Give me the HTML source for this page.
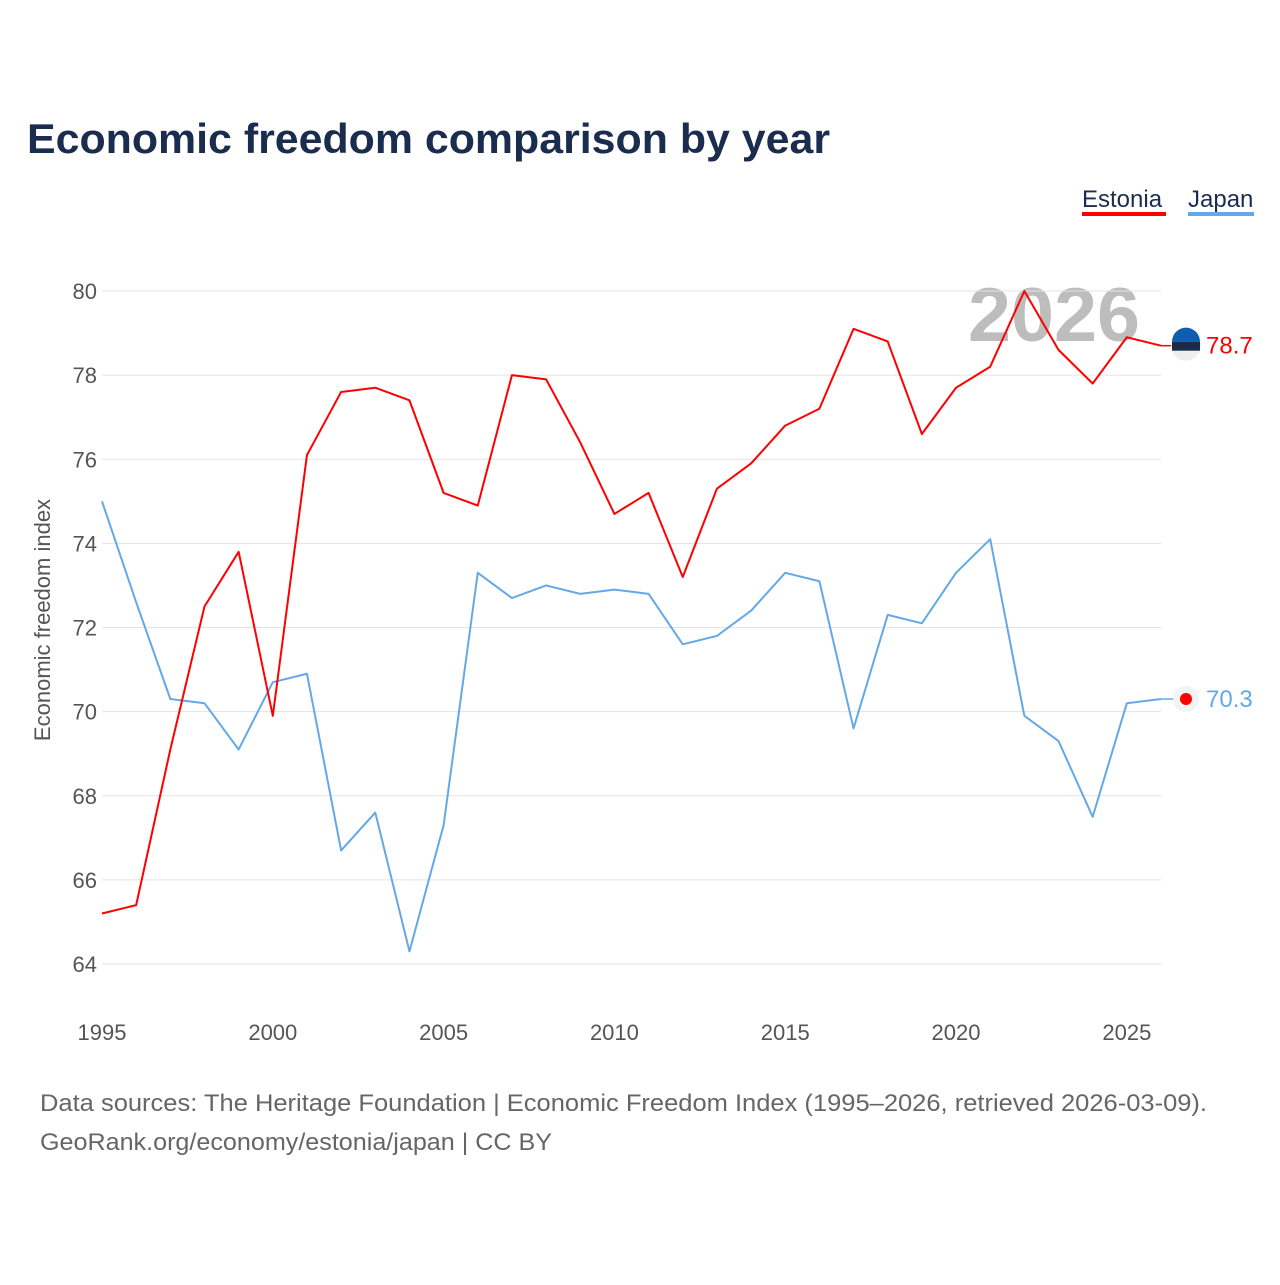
<!DOCTYPE html>
<html><head><meta charset="utf-8"><style>
body{margin:0;background:#fff;}
svg text{font-family:"Liberation Sans",sans-serif;}
</style></head><body>
<svg id="chart" width="1280" height="1280" viewBox="0 0 1280 1280">
<text x="27" y="153" font-size="42" font-weight="bold" fill="#1b2d4f" textLength="803" lengthAdjust="spacingAndGlyphs">Economic freedom comparison by year</text>
<g>
<text x="1082" y="207" font-size="24" fill="#1b2d4f">Estonia</text>
<rect x="1082" y="212" width="84" height="4" fill="#ff0000"/>
<text x="1188" y="207" font-size="24" fill="#1b2d4f">Japan</text>
<rect x="1188" y="212" width="66" height="4" fill="#64a8ea"/>
</g>
<text x="968" y="341" font-size="76" font-weight="bold" fill="#bdbdbd" textLength="172" lengthAdjust="spacingAndGlyphs">2026</text>
<g id="grid"></g>
<g id="xaxis"></g>
<text transform="translate(50,620) rotate(-90)" font-size="22" fill="#555" text-anchor="middle">Economic freedom index</text>
<g id="series"></g>
<g id="markers"></g>
<text x="40" y="1111" font-size="24" fill="#666" textLength="1167" lengthAdjust="spacingAndGlyphs">Data sources: The Heritage Foundation | Economic Freedom Index (1995–2026, retrieved 2026-03-09).</text>
<text x="40" y="1150" font-size="24" fill="#666" textLength="512" lengthAdjust="spacingAndGlyphs">GeoRank.org/economy/estonia/japan | CC BY</text>
</svg>
<script>
const years=[1995,1996,1997,1998,1999,2000,2001,2002,2003,2004,2005,2006,2007,2008,2009,2010,2011,2012,2013,2014,2015,2016,2017,2018,2019,2020,2021,2022,2023,2024,2025,2026];
const estonia=[65.2,65.4,69.1,72.5,73.8,69.9,76.1,77.6,77.7,77.4,75.2,74.9,78.0,77.9,76.4,74.7,75.2,73.2,75.3,75.9,76.8,77.2,79.1,78.8,76.6,77.7,78.2,80.0,78.6,77.8,78.9,78.7];
const japan=[75.0,72.6,70.3,70.2,69.1,70.7,70.9,66.7,67.6,64.3,67.3,73.3,72.7,73.0,72.8,72.9,72.8,71.6,71.8,72.4,73.3,73.1,69.6,72.3,72.1,73.3,74.1,69.9,69.3,67.5,70.2,70.3];
const yTicks=[64,66,68,70,72,74,76,78,80];
const xTicks=[1995,2000,2005,2010,2015,2020,2025];
const NS="http://www.w3.org/2000/svg";
const X=y=>102+(y-1995)*(1161-102)/31;
const Y=v=>964-(v-64)*(964-291)/16;
function mk(tag,attrs,parent){const e=document.createElementNS(NS,tag);for(const k in attrs)e.setAttribute(k,attrs[k]);parent.appendChild(e);return e;}
const grid=document.getElementById('grid');
yTicks.forEach(t=>{
 const l=mk('line',{x1:102,x2:1161,y1:Y(t),y2:Y(t),stroke:'#e3e3e3','stroke-width':1},grid);
 
 
 const tx=mk('text',{x:97,y:Y(t)+8,'font-size':22,fill:'#555','text-anchor':'end'},grid);
 tx.textContent=t;
 
 
});
const xa=document.getElementById('xaxis');
xTicks.forEach(t=>{
 const tx=mk('text',{x:X(t),y:1040,'font-size':22,fill:'#555','text-anchor':'middle'},xa);
 tx.textContent=t;
 
 
});
const s=document.getElementById('series');
function line(vals,color,name){
 const p=mk('polyline',{points:vals.map((v,i)=>X(years[i])+','+Y(v)).join(' '),fill:'none',stroke:color,'stroke-width':2,'stroke-linejoin':'round'},s);
 
 
}
line(japan,'#64a8ea','japan-line');
line(estonia,'#ff0000','estonia-line');
const m=document.getElementById('markers');
const eL=estonia[estonia.length-1], jL=japan[japan.length-1];
let c;
mk('line',{x1:1161,x2:1176,y1:Y(eL),y2:Y(eL),stroke:'#ff0000','stroke-width':1.5},m);
mk('line',{x1:1161,x2:1176,y1:Y(jL),y2:Y(jL),stroke:'#64a8ea','stroke-width':1.5},m);
c=mk('circle',{cx:1186,cy:Y(eL),r:15,fill:'#eee'},m);


mk('path',{d:`M1172 ${Y(eL)-4} A14 14 0 0 1 1200 ${Y(eL)-4} Z`,fill:'#0d5eaf'},m);
mk('rect',{x:1172,y:Y(eL)-4,width:28,height:9,fill:'#1a2a48'},m);
c=mk('circle',{cx:1186,cy:Y(jL),r:13,fill:'#f3f3f3'},m);


mk('circle',{cx:1186,cy:Y(jL),r:6,fill:'#ff0000'},m);
let t=mk('text',{x:1206,y:Y(eL)+8,'font-size':24,fill:'#ff0000'},m);
t.textContent=eL.toFixed(1);


t=mk('text',{x:1206,y:Y(jL)+8,'font-size':24,fill:'#64a8ea'},m);
t.textContent=jL.toFixed(1);


</script>
</body></html>
